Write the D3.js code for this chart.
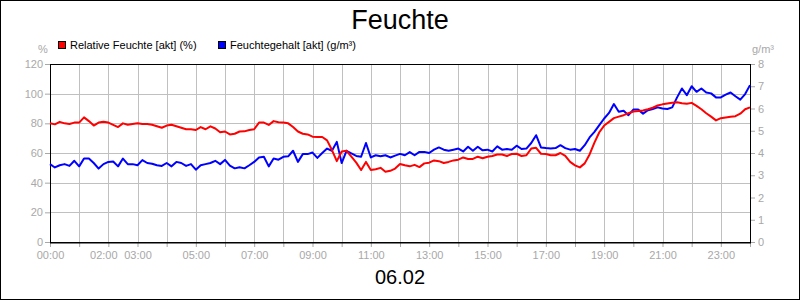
<!DOCTYPE html>
<html>
<head>
<meta charset="utf-8">
<script src="https://cdn.jsdelivr.net/npm/d3@7"></script>
<style>
body{margin:0;background:#fff}
svg{font-family:Arial,"Liberation Sans",sans-serif;display:block}
</style>
</head>
<body>
<div id="chart"></div>
<script>
var title='Feuchte'
var dateLabel='06.02'
var seriesNames=['Relative Feuchte [akt] (%)','Feuchtegehalt [akt] (g/m³)']
var seriesColors=['#ff0000','#0000ff']
var leftUnit='%'
var rightUnit='g/m³'
var leftTicks=[0,20,40,60,80,100,120]
var rightTicks=[0,1,2,3,4,5,6,7,8]
var hourTicks=[0,1,2,3,4,5,6,7,8,9,10,11,12,13,14,15,16,17,18,19,20,21,22,23,24]
var hourLabels=[0,2,3,5,7,9,11,13,15,17,19,21,23]
var stepMinutes=10

// relative humidity in %, one value every 10 minutes
var relHum=[
    80,79.3,81,80,79.5,80.5,80.5,84,81.5,78.5,
    80.5,81,80.5,79,77.5,80,79,79.5,80,79.5,
    79.5,79,78,77,78.5,79,78,77,76,76,
    75.5,77.5,76,78,76.5,74,74.5,72.5,73,74.5,
    74.6,75.5,76,80.5,80.5,78.9,81.5,80.7,80.5,80,
    77.5,74.5,73,72.5,71,70.8,70.8,68.5,62,54.5,
    61,61.5,57.5,53.5,48.5,54,48.5,49,50,47.4,
    48,49.5,52.6,51.7,51,52,50.5,53,53.5,55,
    54.5,53.3,54,55,55.5,57,56,56,57.5,56.5,
    57.5,58,59,59,58,59.3,59.5,58,58.5,63,
    63.5,59.5,59.3,58.5,58.5,60,58,54,51.7,50.3,
    53,59,67,74,78.5,81,83.5,84.5,85.5,86.8,
    88,88.3,88.7,89.5,90.5,92,92.8,93.3,93.8,94.2,
    93.6,93.2,93.8,91.8,89.5,86.8,84.5,82,83.5,84,
    84.5,84.8,86.5,89.5,90.8
]
// absolute humidity in g/m³, one value every 10 minutes
var absHum=[
    3.5,3.35,3.45,3.5,3.42,3.65,3.4,3.75,3.75,3.55,
    3.3,3.5,3.6,3.62,3.4,3.75,3.5,3.5,3.45,3.68,
    3.55,3.52,3.45,3.42,3.55,3.4,3.6,3.55,3.42,3.5,
    3.25,3.45,3.5,3.55,3.65,3.5,3.69,3.43,3.31,3.36,
    3.31,3.45,3.6,3.8,3.83,3.4,3.75,3.7,3.83,3.85,
    4.1,3.6,3.95,3.95,4.02,3.78,4.0,4.2,4.1,4.5,
    3.55,4.1,3.98,3.87,3.83,4.45,3.8,3.9,3.85,3.9,
    3.8,3.88,3.96,3.9,4.04,3.9,4.05,4.05,4.0,4.15,
    4.25,4.15,4.1,4.15,4.2,4.07,4.28,4.1,4.28,4.12,
    4.15,4.07,4.3,4.15,4.18,4.15,4.33,4.18,4.2,4.45,
    4.8,4.25,4.22,4.2,4.22,4.35,4.22,4.15,4.18,4.1,
    4.35,4.7,4.95,5.25,5.55,5.8,6.2,5.85,5.9,5.7,
    5.95,5.95,5.77,5.92,5.98,6.05,6.0,5.98,6.05,6.5,
    6.9,6.6,7.0,6.75,6.9,6.72,6.68,6.5,6.5,6.62,
    6.72,6.55,6.4,6.65,7.05
]

var W=800, H=300
var plot={left:50,right:750,top:64,bottom:242}
var labelColor='#a8a8a8'
var gridColor='#c0c0c0'

var svg=d3.select('#chart').append('svg')
    .attr('width',W)
    .attr('height',H)

svg.append('rect')
    .attr('x',0.5).attr('y',0.5)
    .attr('width',W-1).attr('height',H-1)
    .attr('fill','#fff')
    .attr('stroke','#000')

var x=d3.scaleLinear().domain([0,24]).range([plot.left,plot.right])
var yL=d3.scaleLinear().domain([0,120]).range([plot.bottom,plot.top])
var yR=d3.scaleLinear().domain([0,8]).range([plot.bottom,plot.top])

function crisp(v){return Math.round(v)+0.5}

// grid
var grid=svg.append('g').attr('class','grid')
grid.selectAll('line.v')
    .data(hourTicks.slice(1,-1))
    .enter().append('line')
    .attr('class','v')
    .attr('x1',function(d){return crisp(x(d))})
    .attr('x2',function(d){return crisp(x(d))})
    .attr('y1',plot.top)
    .attr('y2',plot.bottom)
    .attr('stroke',gridColor)
grid.selectAll('line.h')
    .data(leftTicks.slice(1,-1))
    .enter().append('line')
    .attr('class','h')
    .attr('x1',plot.left)
    .attr('x2',plot.right)
    .attr('y1',function(d){return crisp(yL(d))})
    .attr('y2',function(d){return crisp(yL(d))})
    .attr('stroke',gridColor)

// axes
function styleAxis(g){
    g.select('.domain').remove()
    g.selectAll('.tick line').attr('stroke',labelColor)
    g.selectAll('.tick text').attr('fill',labelColor)
	.style('font-size','11px')
	.style('font-family','Arial,"Liberation Sans",sans-serif')
}
svg.append('g')
    .attr('transform','translate('+plot.left+',0)')
    .call(d3.axisLeft(yL).tickValues(leftTicks).tickSize(5).tickPadding(2))
    .call(styleAxis)
svg.append('g')
    .attr('transform','translate('+plot.right+',0)')
    .call(d3.axisRight(yR).tickValues(rightTicks).tickSize(5).tickPadding(3))
    .call(styleAxis)
var xAxis=svg.append('g')
    .attr('transform','translate(0,'+plot.bottom+')')
    .call(d3.axisBottom(x).tickValues(hourTicks).tickSize(5).tickPadding(4)
	  .tickFormat(function(d){
	      return hourLabels.indexOf(d)<0 ? '' : (d<10?'0':'')+d+':00'
	  }))
    .call(styleAxis)
// 02:00 label sits a bit left in the original, next to 03:00
xAxis.selectAll('.tick text').filter(function(d){return d==2}).attr('dx',-5)

// plot frame
svg.append('rect')
    .attr('x',plot.left+0.5).attr('y',plot.top+0.5)
    .attr('width',plot.right-plot.left).attr('height',plot.bottom-plot.top)
    .attr('fill','none')
    .attr('stroke','#000')
svg.append('line')
    .attr('x1',plot.left).attr('x2',plot.right+1)
    .attr('y1',plot.bottom+1).attr('y2',plot.bottom+1)
    .attr('stroke','#000')

// series
function timeOf(i){return i*stepMinutes/60}
var lineRel=d3.line()
    .x(function(d,i){return x(timeOf(i))})
    .y(function(d){return yL(d)})
var lineAbs=d3.line()
    .x(function(d,i){return x(timeOf(i))})
    .y(function(d){return yR(d)})

svg.append('path')
    .datum(absHum)
    .attr('d',lineAbs)
    .attr('fill','none')
    .attr('stroke',seriesColors[1])
    .attr('stroke-width',2)
    .attr('stroke-linejoin','round')
svg.append('path')
    .datum(relHum)
    .attr('d',lineRel)
    .attr('fill','none')
    .attr('stroke',seriesColors[0])
    .attr('stroke-width',2)
    .attr('stroke-linejoin','round')

// titles
svg.append('text')
    .attr('x',W/2).attr('y',29)
    .attr('text-anchor','middle')
    .style('font-size','27px')
    .text(title)
svg.append('text')
    .attr('x',W/2).attr('y',284)
    .attr('text-anchor','middle')
    .style('font-size','20px')
    .text(dateLabel)
svg.append('text')
    .attr('x',43).attr('y',53)
    .attr('text-anchor','middle')
    .attr('fill',labelColor)
    .style('font-size','11px')
    .text(leftUnit)
svg.append('text')
    .attr('x',752).attr('y',53)
    .attr('fill',labelColor)
    .style('font-size','11px')
    .text(rightUnit)

// legend
var legendX=[58,218]
var legend=svg.selectAll('g.legend')
    .data(seriesNames)
    .enter().append('g')
    .attr('class','legend')
    .attr('transform',function(d,i){return 'translate('+legendX[i]+',41)'})
legend.append('rect')
    .attr('x',0.5).attr('y',0.5)
    .attr('width',7).attr('height',7)
    .attr('fill',function(d,i){return seriesColors[i]})
    .attr('stroke','#000')
legend.append('text')
    .attr('x',12).attr('y',8)
    .style('font-size','11px')
    .text(function(d){return d})
</script>
</body>
</html>
